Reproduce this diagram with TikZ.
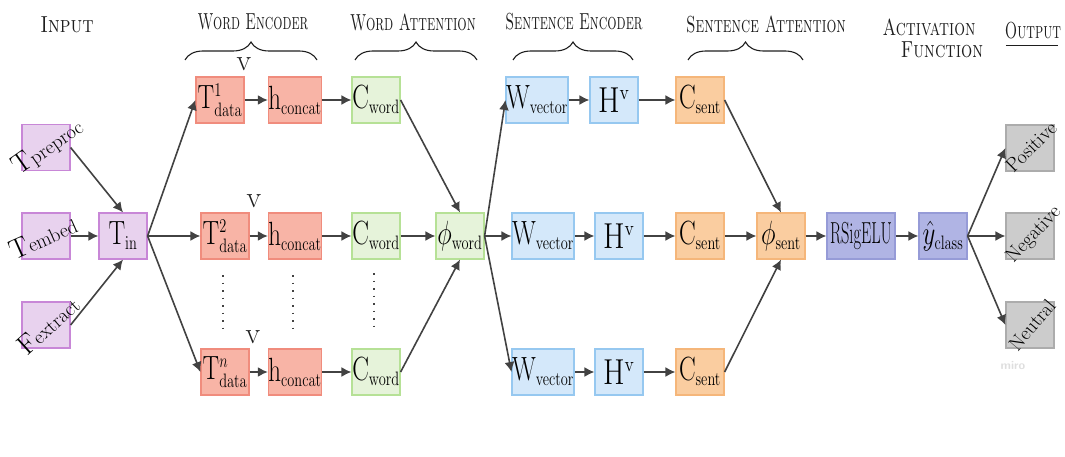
\documentclass[tikz,border=0pt]{standalone}
\usetikzlibrary{arrows.meta,decorations.pathreplacing}
\DeclareMathSizes{24}{24}{14}{10}

\definecolor{inFill}{RGB}{232,210,238}
\definecolor{inLine}{RGB}{200,135,215}
\definecolor{encFill}{RGB}{248,180,166}
\definecolor{encLine}{RGB}{240,140,125}
\definecolor{attFill}{RGB}{230,243,218}
\definecolor{attLine}{RGB}{182,225,150}
\definecolor{senFill}{RGB}{212,232,250}
\definecolor{senLine}{RGB}{150,200,240}
\definecolor{satFill}{RGB}{250,205,160}
\definecolor{satLine}{RGB}{245,182,122}
\definecolor{actFill}{RGB}{176,180,228}
\definecolor{actLine}{RGB}{150,155,215}
\definecolor{outFill}{RGB}{204,204,204}
\definecolor{outLine}{RGB}{172,172,172}
\definecolor{arrowGray}{RGB}{66,66,66}
\definecolor{inkGray}{RGB}{30,30,30}

\newcommand{\boxfont}{\fontsize{24}{28}\selectfont}
% tall, narrow lettering for box labels and headings
\newcommand{\tall}[1]{\scalebox{1}[1.35]{#1}}
\newcommand{\hd}[2]{\scalebox{#1}[1.45]{#2}}
\newcommand{\capletter}[1]{{\fontsize{28}{28}\selectfont #1}}

\tikzset{
  unit/.style={draw, line width=1.2pt, minimum width=48pt, minimum height=46pt,
    inner sep=0pt, font=\boxfont},
  inbox/.style={unit, fill=inFill, draw=inLine},
  encbox/.style={unit, fill=encFill, draw=encLine},
  attbox/.style={unit, fill=attFill, draw=attLine},
  senbox/.style={unit, fill=senFill, draw=senLine},
  satbox/.style={unit, fill=satFill, draw=satLine},
  actbox/.style={unit, fill=actFill, draw=actLine},
  outbox/.style={unit, fill=outFill, draw=outLine},
  arr/.style={draw=arrowGray, line width=1.6pt, -{Latex[length=10pt,width=10pt]}},
  header/.style={text=inkGray, inner sep=0pt, font=\fontsize{16}{19}\selectfont\scshape},
  bracket/.style={draw=inkGray, line width=1.1pt,
    decorate, decoration={brace, amplitude=18pt}},
  dots/.style={draw=arrowGray, line width=1.3pt, dash pattern=on 1.5pt off 6pt},
  vmark/.style={font=\fontsize{30}{30}\selectfont, text=inkGray, inner sep=0pt},
  tilted/.style={font=\fontsize{20}{22}\selectfont, inner sep=0pt}
}

\begin{document}
\begin{tikzpicture}[x=1pt,y=-1pt]
\useasboundingbox (0,0) rectangle (1065,457);

% ---------- column headings ----------
\node[header] (hIn) at (67,25) {\hd{1.2}{Input}};
\node[header] (hWE) at (253,22) {\hd{0.9}{Word Encoder}};
\node[header] (hWA) at (413,22) {\hd{0.92}{Word Attention}};
\node[header] (hSE) at (574,22) {\hd{0.91}{Sentence Encoder}};
\node[header] (hSA) at (766,24) {\hd{0.97}{Sentence Attention}};
\node[header] (hAF1) at (929,27) {\hd{1.06}{Activation}};
\node[header] (hAF2) at (942,50) {\hd{1.1}{Function}};
\node[header] (hOut) at (1033,31) {\hd{0.92}{Output}};
\draw[inkGray, line width=1.1pt] ([xshift=1pt,yshift=-6pt]hOut.south west) -- ([xshift=-3pt,yshift=-6pt]hOut.south east);

\draw[bracket] (185,60) -- (317,60);
\draw[bracket] (355,60) -- (477,60);
\draw[bracket] (513,60) -- (633,60);
\draw[bracket] (688,60) -- (803,60);

% ---------- input ----------
\node[inbox] (pre) at (46,147.5) {};
\node[inbox] (emb) at (46,236) {};
\node[inbox] (fex) at (46,325) {};
\node[tilted, rotate=35] (preT) at (48,147) {\capletter{T}preproc};
\node[tilted, rotate=24] (embT) at (43,237) {\capletter{T}embed};
\node[tilted, rotate=42] (fexT) at (48,325) {\capletter{F}extract};
\node[inbox] (tin) at (123,236) {\tall{$\mathrm{T}_{\mathrm{in}}$}};

% ---------- word encoder ----------
\node[encbox] (d1) at (220,100) {\tall{$\mathrm{T}^{1}_{\mathrm{data}}$}};
\node[encbox] (d2) at (225,236) {\tall{$\mathrm{T}^{2}_{\mathrm{data}}$}};
\node[encbox] (d3) at (225,372) {\tall{$\mathrm{T}^{n}_{\mathrm{data}}$}};
\node[encbox] (hc1) at (295,100) {\tall{$\mathrm{h}_{\mathrm{concat}}$}};
\node[encbox] (hc2) at (295,236) {\tall{$\mathrm{h}_{\mathrm{concat}}$}};
\node[encbox] (hc3) at (295,372) {\tall{$\mathrm{h}_{\mathrm{concat}}$}};
\node[vmark] (v1) at (244,64) {v};
\node[vmark] (v2) at (254,201) {v};
\node[vmark] (v3) at (253,337) {v};

% ---------- word attention ----------
\node[attbox] (cw1) at (376,100) {\tall{$\mathrm{C}_{\mathrm{word}}$}};
\node[attbox] (cw2) at (376,236) {\tall{$\mathrm{C}_{\mathrm{word}}$}};
\node[attbox] (cw3) at (376,372) {\tall{$\mathrm{C}_{\mathrm{word}}$}};
\node[attbox] (phiw) at (460,236) {\tall{$\phi_{\mathrm{word}}$}};

% ---------- sentence encoder ----------
\node[senbox] (wv1) at (537,100) {\tall{$\mathrm{W}_{\mathrm{vector}}$}};
\node[senbox] (wv2) at (543,236) {\tall{$\mathrm{W}_{\mathrm{vector}}$}};
\node[senbox] (wv3) at (543,372) {\tall{$\mathrm{W}_{\mathrm{vector}}$}};
\node[senbox] (h1) at (614,100) {\scalebox{1.25}[1.45]{$\mathrm{H}^{\mathrm{v}}$}};
\node[senbox] (h2) at (619,236) {\scalebox{1.25}[1.45]{$\mathrm{H}^{\mathrm{v}}$}};
\node[senbox] (h3) at (619,372) {\scalebox{1.25}[1.45]{$\mathrm{H}^{\mathrm{v}}$}};

% ---------- sentence attention ----------
\node[satbox] (cs1) at (700,100) {\tall{$\mathrm{C}_{\mathrm{sent}}$}};
\node[satbox] (cs2) at (700,236) {\tall{$\mathrm{C}_{\mathrm{sent}}$}};
\node[satbox] (cs3) at (700,372) {\tall{$\mathrm{C}_{\mathrm{sent}}$}};
\node[satbox] (phis) at (781,236) {\tall{$\phi_{\mathrm{sent}}$}};

% ---------- activation and output ----------
\node[actbox, minimum width=68pt, font=\fontsize{16}{18}\selectfont] (rsig) at (861,236) {\scalebox{1.02}[1.9]{RSigELU}};
\node[actbox] (yhat) at (943,236) {\tall{$\hat{y}_{\mathrm{class}}$}};
\node[outbox] (pos) at (1030,148) {};
\node[outbox] (neg) at (1030,236) {};
\node[outbox] (neu) at (1030,325) {};
\node[tilted, rotate=45] (posT) at (1031,147) {Positive};
\node[tilted, rotate=47] (negT) at (1034,235) {Negative};
\node[tilted, rotate=50] (neuT) at (1032,325) {Neutral};

\node[text=black!13, font=\sffamily\bfseries\fontsize{12}{14}\selectfont] (wm) at (1013,366) {miro};

% ---------- gaps between rows 2 and n ----------
\coordinate (g1a) at (223,275); \coordinate (g1b) at (223,331);
\coordinate (g2a) at (293,275); \coordinate (g2b) at (293,331);
\coordinate (g3a) at (374,273); \coordinate (g3b) at (374,329);
\draw[dots] (g1a) -- (g1b);
\draw[dots] (g2a) -- (g2b);
\draw[dots] (g3a) -- (g3b);

% ---------- connectors ----------
\draw[arr] (pre.east) -- (tin.north);
\draw[arr] (emb.east) -- (tin.west);
\draw[arr] (fex.east) -- (tin.south);
\foreach \r in {1,2,3} {
  \draw[arr] (tin.east) -- (d\r.west);
  \draw[arr] (d\r.east) -- (hc\r.west);
  \draw[arr] (hc\r.east) -- (cw\r.west);
  \draw[arr] (phiw.east) -- (wv\r.west);
  \draw[arr] (wv\r.east) -- (h\r.west);
  \draw[arr] (h\r.east) -- (cs\r.west);
}
\draw[arr] (cw1.east) -- (phiw.north);
\draw[arr] (cw2.east) -- (phiw.west);
\draw[arr] (cw3.east) -- (phiw.south);
\draw[arr] (cs1.east) -- (phis.north);
\draw[arr] (cs2.east) -- (phis.west);
\draw[arr] (cs3.east) -- (phis.south);
\draw[arr] (phis.east) -- (rsig.west);
\draw[arr] (rsig.east) -- (yhat.west);
\draw[arr] (yhat.east) -- (pos.west);
\draw[arr] (yhat.east) -- (neg.west);
\draw[arr] (yhat.east) -- (neu.west);
\end{tikzpicture}
\end{document}
